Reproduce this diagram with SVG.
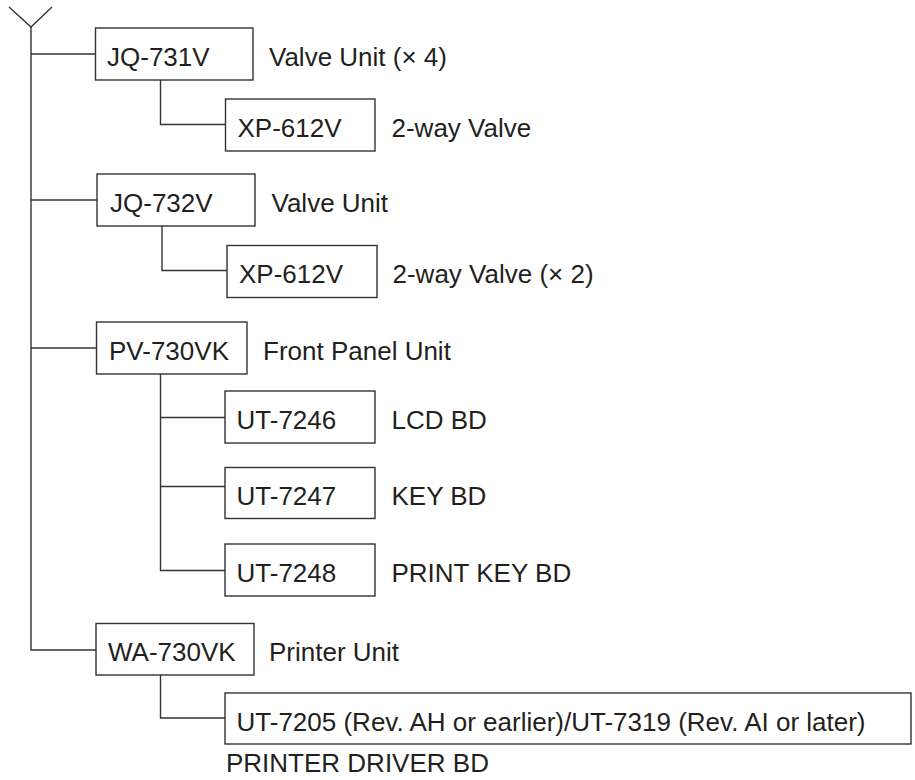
<svg xmlns="http://www.w3.org/2000/svg" width="915" height="780" viewBox="0 0 915 780">
<style>
.box{fill:#fff;stroke:#333;stroke-width:1.4}
.ln{fill:none;stroke:#333;stroke-width:1.4}
text{font-family:"Liberation Sans",Arial,sans-serif;font-size:26px;fill:#231f20}
</style>
<rect width="915" height="780" fill="#fff"/>
<g id="connectors">
<path class="ln" d="M9,7 L31,27 L52,7"/>
<path class="ln" d="M31,27 V650 H96"/>
<path class="ln" d="M31,54 H95.5"/>
<path class="ln" d="M31,200 H97"/>
<path class="ln" d="M31,348 H96.5"/>
<path class="ln" d="M160.5,80 V124.5 H225.5"/>
<path class="ln" d="M162,226 V270.5 H227"/>
<path class="ln" d="M160.5,374 V570.5 H225"/>
<path class="ln" d="M160.5,417.5 H225"/>
<path class="ln" d="M160.5,486.5 H225"/>
<path class="ln" d="M160.5,675 V718 H225"/>
</g>
<g id="n-jq731v"><rect class="box" x="95.5" y="28" width="157.5" height="52"/><text x="107" y="65.5">JQ-731V</text><text x="269" y="65.5">Valve Unit (× 4)</text></g>
<g id="n-xp612v-1"><rect class="box" x="225.5" y="99" width="149.5" height="52"/><text x="237.5" y="136.5">XP-612V</text><text x="391.5" y="136.5">2-way Valve</text></g>
<g id="n-jq732v"><rect class="box" x="97" y="174" width="158" height="52"/><text x="110" y="211.5">JQ-732V</text><text x="271.5" y="211.5">Valve Unit</text></g>
<g id="n-xp612v-2"><rect class="box" x="227" y="245.5" width="150" height="52"/><text x="239" y="283">XP-612V</text><text x="392.5" y="283">2-way Valve (× 2)</text></g>
<g id="n-pv730vk"><rect class="box" x="96.5" y="322" width="150.5" height="52"/><text x="109" y="359.5">PV-730VK</text><text x="263" y="359.5">Front Panel Unit</text></g>
<g id="n-ut7246"><rect class="box" x="225" y="391" width="150" height="52"/><text x="236.5" y="428.5">UT-7246</text><text x="391.5" y="428.5">LCD BD</text></g>
<g id="n-ut7247"><rect class="box" x="225" y="467.5" width="150" height="51"/><text x="236.5" y="505">UT-7247</text><text x="391.5" y="505">KEY BD</text></g>
<g id="n-ut7248"><rect class="box" x="225" y="544" width="150" height="52"/><text x="236.5" y="581.5">UT-7248</text><text x="391.5" y="581.5">PRINT KEY BD</text></g>
<g id="n-wa730vk"><rect class="box" x="96" y="623.5" width="158" height="51.5"/><text x="108" y="661">WA-730VK</text><text x="269" y="661">Printer Unit</text></g>
<g id="n-ut7205"><rect class="box" x="225" y="693" width="686" height="51"/><text x="236.5" y="730.5">UT-7205 (Rev. AH or earlier)/UT-7319 (Rev. AI or later)</text><text x="226" y="772">PRINTER DRIVER BD</text></g>
</svg>
